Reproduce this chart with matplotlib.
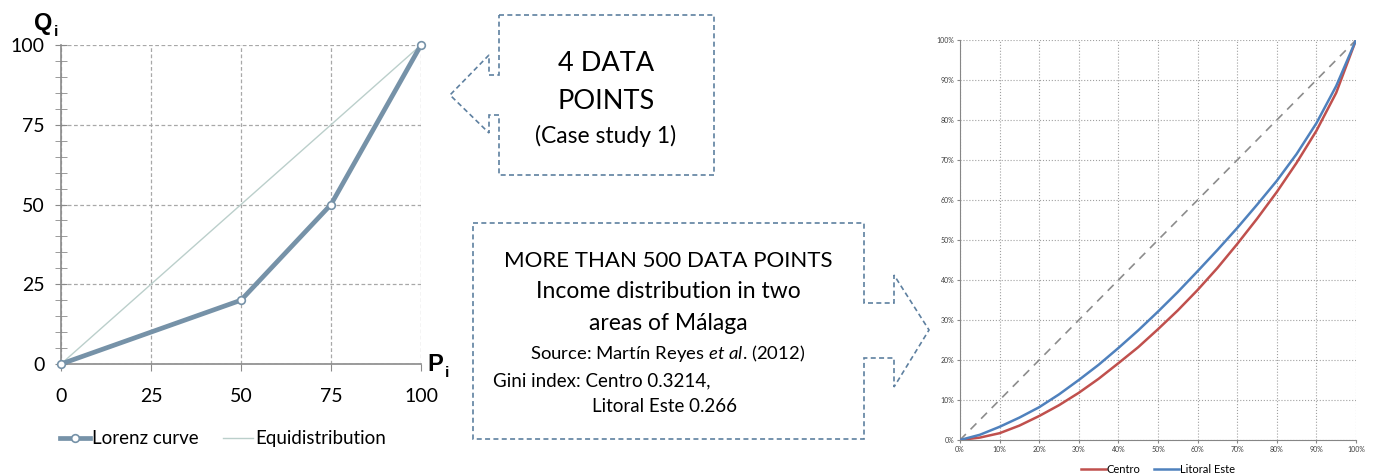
import matplotlib.pyplot as plt
from matplotlib.patches import Polygon
from matplotlib.ticker import MultipleLocator, PercentFormatter

plt.rcParams['font.family'] = ['Lato', 'DejaVu Sans']
plt.rcParams['mathtext.fontset'] = 'custom'
plt.rcParams['mathtext.rm'] = 'Lato'
plt.rcParams['mathtext.it'] = 'Lato:italic'

# ---- data: left Lorenz example (4 data points) ----
lorenz_p = [0, 50, 75, 100]
lorenz_q = [0, 20, 50, 100]
equi = [0, 100]
left_ticks = [0, 25, 50, 75, 100]

# ---- data: right chart, income distribution in Malaga ----
pop_share = [0, 5, 10, 15, 20, 25, 30, 35, 40, 45, 50,
             55, 60, 65, 70, 75, 80, 85, 90, 95, 100]
centro = [0, 0.6, 1.7, 3.6, 6.0, 8.7, 11.8, 15.3, 19.2, 23.2, 27.7,
          32.4, 37.5, 43.0, 49.0, 55.3, 62.0, 69.3, 77.3, 86.8, 100]
litoral = [0, 1.3, 3.3, 5.6, 8.2, 11.4, 15.0, 18.8, 23.0, 27.4, 32.1,
           37.0, 42.2, 47.5, 53.0, 58.8, 64.8, 71.5, 79.2, 88.5, 100]

W, H = 1375, 474
fig = plt.figure(figsize=(W / 100, H / 100), dpi=100)

def px_axes(x0, y0, x1, y1):
    # pixel box (top-left origin) -> figure fraction
    return fig.add_axes([x0 / W, 1 - y1 / H, (x1 - x0) / W, (y1 - y0) / H])

# ---------------- left chart ----------------
ax = px_axes(61, 45, 421, 364)
line_col = '#7692A8'
ax.plot(equi, equi, color='#BBCFCB', lw=1.0, label='Equidistribution', zorder=2)
ax.plot(lorenz_p, lorenz_q, color=line_col, lw=3.4, marker='o', ms=5.5,
        mfc='white', mec=line_col, mew=1.2, label='Lorenz curve', zorder=3,
        clip_on=False)
ax.set_xlim(0, 100)
ax.set_ylim(0, 100)
ax.set_xticks(left_ticks)
ax.set_yticks(left_ticks)
ax.yaxis.set_minor_locator(MultipleLocator(5))
ax.grid(True, ls='--', color='#A8A8A8', lw=0.9, dashes=(3, 2))
for s in ['top', 'right']:
    ax.spines[s].set_visible(False)
for s in ['left', 'bottom']:
    ax.spines[s].set_color('#8A8A8A')
    ax.spines[s].set_linewidth(1.2)
ax.tick_params(axis='y', which='both', direction='inout', length=8, color='#8A8A8A',
               labelsize=14, pad=8)
ax.tick_params(axis='x', which='major', direction='out', length=5, color='#8A8A8A',
               labelsize=14, pad=12)

# axis names Q_i / P_i (bold, subscript i)
ov = fig.add_axes([0, 0, 1, 1])
ov.set_xlim(0, W)
ov.set_ylim(H, 0)
ov.axis('off')
bold = dict(family='Liberation Sans', fontweight='bold')
ov.text(52, 30, 'Q', ha='right', va='baseline', fontsize=17, **bold)
ov.text(54, 36, 'i', ha='left', va='baseline', fontsize=11, **bold)
ov.text(443, 371, 'P', ha='right', va='baseline', fontsize=17, **bold)
ov.text(445, 377, 'i', ha='left', va='baseline', fontsize=11, **bold)

h, l = ax.get_legend_handles_labels()
ax.legend(h[::-1], l[::-1], loc='upper center', bbox_to_anchor=(0.45, -0.155),
          ncol=2, frameon=False, fontsize=13.5, handlelength=1.6,
          handletextpad=0.1, columnspacing=1.3)

# ---------------- right chart ----------------
ax2 = px_axes(960, 40, 1356, 440)
ax2.plot([0, 100], [0, 100], color='#8C8C8C', lw=1.2, ls=(0, (5, 4)), zorder=2)
ax2.plot(pop_share, centro, color='#C0504D', lw=1.8, label='Centro', zorder=3)
ax2.plot(pop_share, litoral, color='#4F81BD', lw=1.8, label='Litoral Este', zorder=4)
ax2.set_xlim(0, 100)
ax2.set_ylim(0, 100)
ax2.xaxis.set_major_locator(MultipleLocator(10))
ax2.yaxis.set_major_locator(MultipleLocator(10))
ax2.xaxis.set_major_formatter(PercentFormatter(decimals=0))
ax2.yaxis.set_major_formatter(PercentFormatter(decimals=0))
ax2.grid(True, ls=':', color='#A0A0A0', lw=0.8)
for s in ['top', 'right']:
    ax2.spines[s].set_visible(False)
for s in ['left', 'bottom']:
    ax2.spines[s].set_color('#868686')
ax2.tick_params(which='both', direction='out', length=2, color='#868686',
                labelsize=5, labelcolor='#404040', pad=2)
ax2.legend(loc='upper center', bbox_to_anchor=(0.5, -0.045), ncol=2,
           frameon=False, fontsize=8, handlelength=2.2, handletextpad=0.1,
           columnspacing=1.2, borderpad=0)

# ---------------- callout boxes ----------------
box_col = '#5E80A0'
box1 = [(499, 15), (714, 15), (714, 175), (499, 175), (499, 115), (489, 115),
        (489, 133), (450, 95), (489, 55), (489, 75), (499, 75)]
box2 = [(473, 223), (864, 223), (864, 303), (894, 303), (894, 275), (929, 330),
        (894, 387), (894, 358), (864, 358), (864, 439), (473, 439)]
for pts in (box1, box2):
    ov.add_patch(Polygon(pts, closed=True, fill=False, ec=box_col, lw=1.2,
                         ls=(0, (3, 2))))

tc = '#000000'
ov.text(606, 63, '4 DATA', ha='center', va='center', fontsize=19.5, color=tc)
ov.text(606, 101, 'POINTS', ha='center', va='center', fontsize=19.5, color=tc)
ov.text(606, 136, '(Case study 1)', ha='center', va='center', fontsize=16.5, color=tc)

ov.text(668, 261, 'MORE THAN 500 DATA POINTS', ha='center', va='center',
        fontsize=16, color=tc)
ov.text(668, 292, 'Income distribution in two', ha='center', va='center',
        fontsize=16.5, color=tc)
ov.text(668, 323, 'areas of Málaga', ha='center', va='center',
        fontsize=16.5, color=tc)
ov.text(668, 354, r'Source: Martín Reyes $\mathit{et\ al}$. (2012)', ha='center',
        va='center', fontsize=13.3, color=tc)
ov.text(493, 381, 'Gini index: Centro 0.3214,', ha='left', va='center',
        fontsize=13.5, color=tc)
ov.text(592, 406, 'Litoral Este 0.266', ha='left', va='center',
        fontsize=13.5, color=tc)

fig.savefig('out.png', dpi=100)
